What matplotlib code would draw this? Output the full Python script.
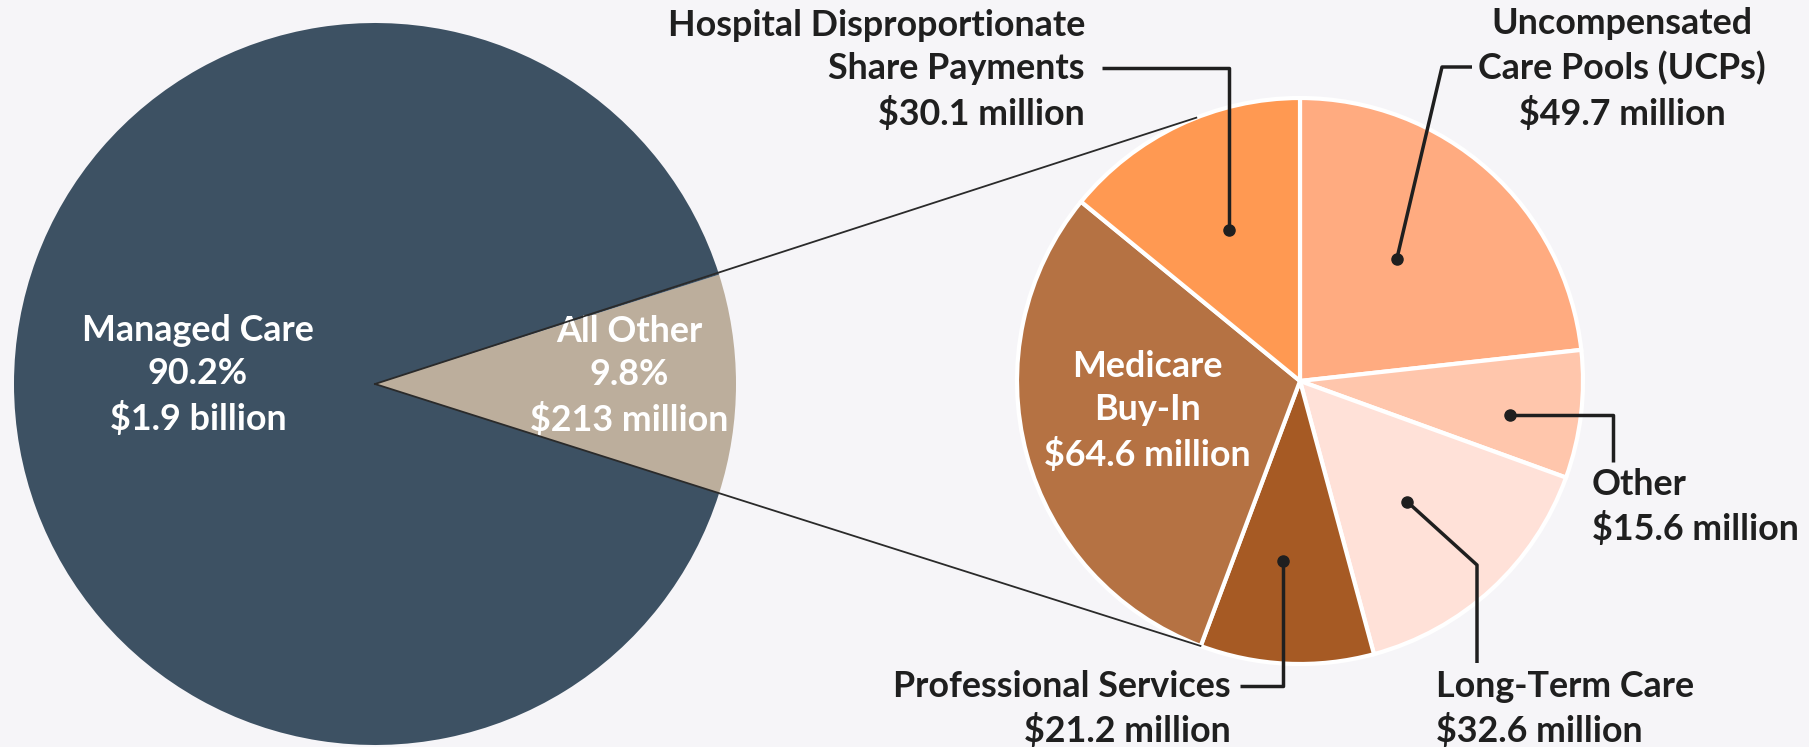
import numpy as np
import matplotlib.pyplot as plt

plt.rcParams['font.family'] = ['Lato', 'DejaVu Sans']

# main split
main_labels = ['All Other', 'Managed Care']
main_pct = [9.8, 90.2]
main_amount = ['$213 million', '$1.9 billion']

# breakdown of "All Other" ($ million), clockwise from top
sub_labels = ['Uncompensated\nCare Pools (UCPs)', 'Other', 'Long-Term Care',
              'Professional Services', 'Medicare\nBuy-In',
              'Hospital Disproportionate\nShare Payments']
sub_values = [49.7, 15.6, 32.6, 21.2, 64.6, 30.1]

BG = '#F6F5F8'
INK = '#1f1f1f'
W, H = 1809, 747
FS, LS = 25.8, 1.37

fig = plt.figure(figsize=(W / 100, H / 100), dpi=100, facecolor=BG)
ax = fig.add_axes([0, 0, 1, 1])
ax.set_facecolor(BG)


def Y(y):
    # picture rows are counted from the top
    return H - y


# left pie
c1, r1 = (375, Y(384)), 361
start = -main_pct[0] * 3.6 / 2
ax.pie(main_pct, colors=['#BCAE9C', '#3D5163'], startangle=start,
       center=c1, radius=r1, wedgeprops=dict(linewidth=0), frame=True)
ax.text(198, Y(375), f"{main_labels[1]}\n{main_pct[1]}%\n{main_amount[1]}",
        ha='center', va='center', color='white', fontsize=FS,
        fontweight='bold', linespacing=LS)
ax.text(629, Y(376), f"{main_labels[0]}\n{main_pct[0]}%\n{main_amount[0]}",
        ha='center', va='center', color='white', fontsize=FS,
        fontweight='bold', linespacing=LS)

# right pie
c2, r2 = (1300, Y(381)), 283
sub_colors = ['#FFAB80', '#FFC6AC', '#FFE1D8', '#A65A24', '#B57243', '#FF9952']
wedges, _ = ax.pie(sub_values, colors=sub_colors, startangle=90,
                   counterclock=False, center=c2, radius=r2,
                   wedgeprops=dict(edgecolor='white', linewidth=3), frame=True)
ax.set_xlim(0, W)
ax.set_ylim(0, H)
ax.set_aspect('equal')
ax.axis('off')


def inner_point(w, frac, shift=0):
    a = np.deg2rad((w.theta1 + w.theta2) / 2 + shift)
    return c2[0] + frac * r2 * np.cos(a), c2[1] + frac * r2 * np.sin(a)


# connection lines from the left wedge to the right pie
for ang in (111.5, -110.6):
    a = np.deg2rad(ang)
    ax.plot([c1[0], c2[0] + r2 * np.cos(a)], [c1[1], c2[1] + r2 * np.sin(a)],
            color='#2a2a2a', lw=1.3, zorder=5)

# Medicare Buy-In label inside wedge
mx, my = inner_point(wedges[4], 0.55, -4)
ax.text(mx, my, f"{sub_labels[4]}\n${sub_values[4]} million", ha='center',
        va='center', color='white', fontsize=FS, fontweight='bold',
        linespacing=LS)

# callouts: wedge index, radius fraction, angle shift, elbow path, text pos, align
callouts = [
    (5, 0.59, 0, [(None, 68), (1102, 68)], (1085, 70), 'right'),
    (0, 0.55, 3.4, [(1442, 67), (1472, 67)], (1622, 69), 'center'),
    (1, 0.75, -2.3, [(1613, None), (1613, 462)], (1592, 507), 'left'),
    (2, 0.57, -1, [(1477, 565), (1477, 663)], (1436, 709), 'left'),
    (3, 0.64, -2.6, [(None, 686), (1240, 686)], (1231, 709), 'right'),
]
for i, frac, shift, path, (tx, ty), ha in callouts:
    dx, dy = inner_point(wedges[i], frac, shift)
    xs, ys = [dx], [dy]
    for px, py in path:
        xs.append(dx if px is None else px)
        ys.append(dy if py is None else Y(py))
    ax.plot(xs, ys, color=INK, lw=2.5, zorder=6, solid_capstyle='butt')
    ax.plot(dx, dy, 'o', color=INK, ms=8, zorder=7)
    ax.text(tx, Y(ty), f"{sub_labels[i]}\n${sub_values[i]} million",
            ha=ha, va='center', multialignment=ha, color=INK, fontsize=FS,
            fontweight='bold', linespacing=LS)

fig.savefig('out.png', dpi=100, facecolor=BG)
